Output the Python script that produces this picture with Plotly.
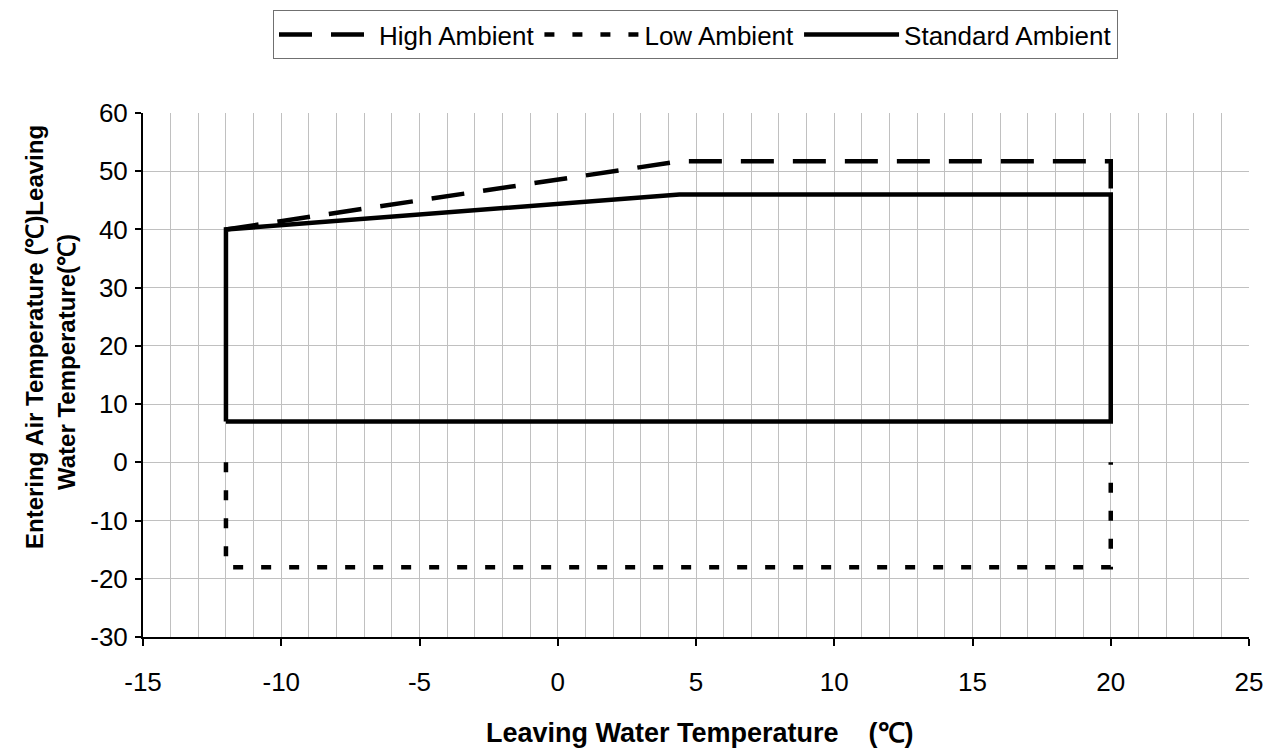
import plotly.graph_objects as go

# Data
high_x = [-12, 4.4, 20, 20]
high_y = [40, 51.7, 51.7, 46]
low_x = [-12, -12, 20, 20]
low_y = [0, -18, -18, 0]
std_x = [-12, -12, 4.4, 20, 20, -12]
std_y = [7, 40, 46, 46, 7, 7]

x_ticks = [-15, -10, -5, 0, 5, 10, 15, 20, 25]
x_tick_text = ["-15", "-10", "-5", "0", "5", "10", "15", "20", "25"]
y_ticks = [-30, -20, -10, 0, 10, 20, 30, 40, 50, 60]
y_tick_text = ["-30", "-20", "-10", "0", "10", "20", "30", "40", "50", "60"]

FONT = "Liberation Sans, Arial, sans-serif"
OFF = 8  # page body margin
W, H = 1275 - OFF, 750 - OFF
# target plot area in screen pixels
SX0, SX1, SY0, SY1 = 143, 1249, 113, 637
L, T = SX0 - OFF, SY0 - OFF
R = W - (SX1 - OFF)
B = H - (SY1 - OFF)
PW, PH = SX1 - SX0, SY1 - SY0

def px_x(px):
    return (px - SX0) / PW

def px_y(py):
    return (SY1 - py) / PH

fig = go.Figure()
fig.add_trace(go.Scatter(x=low_x, y=low_y, mode="lines", name="Low Ambient",
                         line=dict(color="black", width=4.5, dash="10px,18px"),
                         legendrank=2))
fig.add_trace(go.Scatter(x=high_x, y=high_y, mode="lines", name="High Ambient",
                         line=dict(color="black", width=4.5, dash="33px,19px"),
                         legendrank=1))
fig.add_trace(go.Scatter(x=std_x, y=std_y, mode="lines", name="Standard Ambient",
                         line=dict(color="black", width=4.5),
                         legendrank=3))

grid = "#c0c0c0"
fig.update_layout(
    width=W, height=H,
    margin=dict(l=L, r=R, t=T, b=B, autoexpand=False),
    paper_bgcolor="white", plot_bgcolor="white",
    font=dict(family=FONT, size=26, color="black"),
    showlegend=True,
    legend=dict(orientation="h", x=px_x(273), xanchor="left",
                y=px_y(10), yanchor="top",
                bordercolor="#707070", borderwidth=1,
                font=dict(family=FONT, size=26, color="black"),
                itemwidth=95, tracegroupgap=0),
    xaxis=dict(range=[-15, 25], tickmode="array", tickvals=x_ticks, ticktext=x_tick_text,
               ticks="outside", ticklen=7,
               tickwidth=1.5, tickcolor="black",
               showline=True, linecolor="black", linewidth=2,
               showgrid=True, gridcolor=grid, gridwidth=1, zeroline=False,
               minor=dict(dtick=1, tick0=-15, showgrid=True, gridcolor=grid, gridwidth=1),
               ticklabelstandoff=14,
               tickfont=dict(family=FONT, size=26, color="black")),
    yaxis=dict(range=[-30, 60], tickmode="array", tickvals=y_ticks, ticktext=y_tick_text,
               ticks="outside", ticklen=6,
               tickwidth=1.5, tickcolor="black",
               showline=True, linecolor="black", linewidth=2,
               showgrid=True, gridcolor=grid, gridwidth=1, zeroline=False,
               ticklabelstandoff=2,
               tickfont=dict(family=FONT, size=26, color="black")),
)

fig.add_annotation(text="<b>Leaving Water Temperature\u00a0\u00a0\u00a0\u00a0(℃)</b>",
                   xref="paper", yref="paper", x=px_x(700), y=px_y(733),
                   xanchor="center", yanchor="middle", showarrow=False,
                   font=dict(family=FONT, size=27, color="black"))
fig.add_annotation(text="<b>Entering Air Temperature (℃)Leaving</b>",
                   xref="paper", yref="paper", x=px_x(34), y=px_y(337),
                   xanchor="center", yanchor="middle", showarrow=False, textangle=-90,
                   font=dict(family=FONT, size=24, color="black"))
fig.add_annotation(text="<b>Water Temperature(℃)</b>",
                   xref="paper", yref="paper", x=px_x(66), y=px_y(362),
                   xanchor="center", yanchor="middle", showarrow=False, textangle=-90,
                   font=dict(family=FONT, size=24, color="black"))

fig.write_html("out.html")
